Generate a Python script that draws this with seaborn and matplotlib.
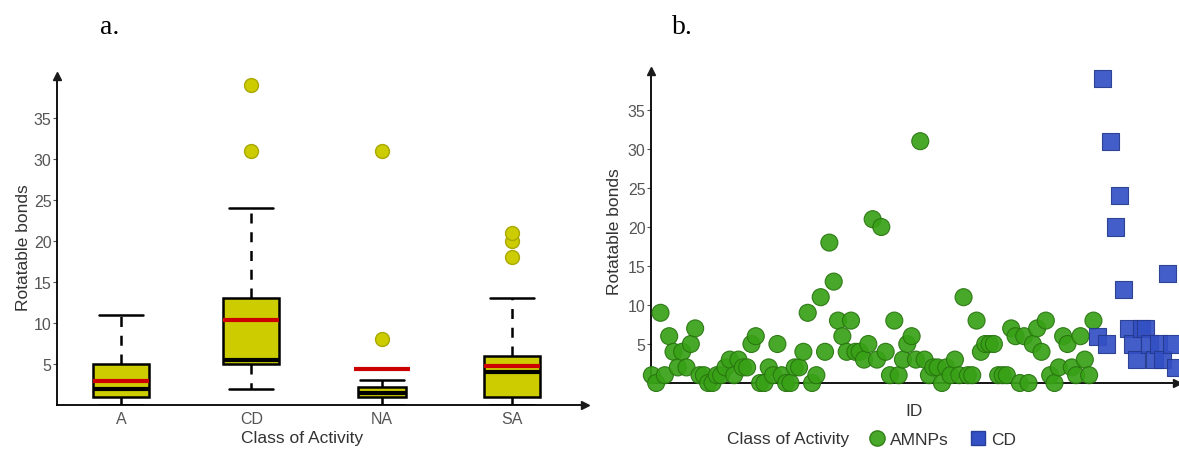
import numpy as np
import pandas as pd
import matplotlib
matplotlib.use("Agg")
import matplotlib.pyplot as plt
import matplotlib.path as mpath
from matplotlib.lines import Line2D
import seaborn as sns

# ---------------- data: panel a (box plot by class) ----------------
classes = ["A", "CD", "NA", "SA"]
a_bonds = [0, 0, 0, 1, 1, 1, 1, 1, 1, 1, 2, 2, 2, 2, 2, 3, 3, 4, 5, 5, 5, 6, 7, 8, 11]
cd_bonds = [2, 3, 3, 3, 5, 5, 5, 5, 5, 5, 6, 7, 7, 7, 13, 13, 20, 24, 31, 39]
na_bonds = [0, 0, 1, 1, 1, 1, 2, 2, 2, 3, 8, 31]
sa_bonds = [0, 0, 0, 0, 0, 0, 1, 1, 1, 1, 1, 1, 2, 2, 4, 4, 4, 4, 4, 5, 5,
            6, 6, 6, 6, 6, 13, 18, 20, 21]

# ---------------- data: panel b (scatter by ID) ----------------
amnp_rot = [1, 0, 9, 1, 6, 4, 2, 4, 2, 5,
            7, 1, 1, 0, 0, 1, 1, 2, 3, 1,
            3, 2, 2, 5, 6, 0, 0, 2, 1, 5,
            1, 0, 0, 2, 2, 4, 9, 0, 1, 11,
            4, 18, 13, 8, 6, 4, 8, 4, 4, 3,
            5, 21, 3, 20, 4, 1, 8, 1, 3, 5,
            6, 3, 31, 3, 1, 2, 2, 0, 2, 1,
            3, 1, 11, 1, 1, 8, 4, 5, 5, 5,
            1, 1, 1, 7, 6, 0, 6, 0, 5, 7,
            4, 8, 1, 0, 2, 6, 5, 2, 1, 6,
            3, 1, 8]
cd_rot = [6, 39, 5, 31, 20, 24, 12, 7, 5, 3, 7, 7, 5, 3, 5, 3, 14, 5, 2]
series_names = ["AMNPs", "CD"]
y_ticks = [5, 10, 15, 20, 25, 30, 35]

# ---------------- style ----------------
sns.set_theme(style="white")
plt.rcParams["font.family"] = ["Liberation Sans", "DejaVu Sans"]

W, H = 1179, 452
fig = plt.figure(figsize=(W / 100, H / 100), dpi=100)
ax1 = fig.add_axes([57 / W, (H - 406) / H, (585 - 57) / W, (406 - 77) / H])
ax2 = fig.add_axes([651 / W, (H - 384) / H, (1177 - 651) / W, (384 - 72) / H])

tick_col = "#555555"
lab_col = "#333333"
yellow = "#cccc00"

# ---------------- panel a ----------------
box_df = pd.DataFrame({
    "Class": (["A"] * len(a_bonds) + ["CD"] * len(cd_bonds)
              + ["NA"] * len(na_bonds) + ["SA"] * len(sa_bonds)),
    "Rotatable bonds": a_bonds + cd_bonds + na_bonds + sa_bonds,
})
sns.boxplot(data=box_df, x="Class", y="Rotatable bonds", order=classes,
            color=yellow, saturation=1, width=0.43, whis=1.5,
            linecolor="black", linewidth=1.8,
            showmeans=True, meanline=True,
            meanprops=dict(color="#cc0000", linestyle="-", linewidth=3),
            medianprops=dict(color="black", linewidth=3),
            whiskerprops=dict(linestyle=(0, (4, 3.5)), linewidth=1.8),
            capprops=dict(linewidth=1.8),
            flierprops=dict(marker="o", markerfacecolor=yellow,
                            markeredgecolor="#a8a800", markersize=10,
                            markeredgewidth=1),
            capwidths=0.34, ax=ax1)

# NA box drawn slightly narrower
na_pos = classes.index("NA")
shrink = 0.86
for p in ax1.patches:
    path = p.get_path()
    v = np.array(path.vertices, dtype=float)
    if len(v) and abs(v[:, 0].mean() - na_pos) < 0.3:
        v[:, 0] = na_pos + (v[:, 0] - na_pos) * shrink
        p.set_path(mpath.Path(v, path.codes))
for ln in ax1.lines:
    xd = np.asarray(ln.get_xdata(), dtype=float)
    if (len(xd) == 2 and abs(xd.mean() - na_pos) < 0.05
            and abs((xd[1] - xd[0]) - 0.43) < 0.02
            and ln.get_color() == "black"):
        ln.set_xdata(na_pos + (xd - na_pos) * shrink)

ax1.set_xlim(-0.491, 3.56)
ax1.set_ylim(0, 40.1)
ax1.set_yticks(y_ticks)
ax1.set_xlabel("Class of Activity", fontsize=12.5, color=lab_col)
ax1.set_ylabel("Rotatable bonds", fontsize=12.5, color=lab_col)
ax1.xaxis.set_label_coords((302 - 57) / 528, -(431 - 406) / 329)
ax1.yaxis.set_label_coords(-(57 - 31) / 528, (406 - 248) / 329)

# ---------------- panel b ----------------
sc_df = pd.DataFrame({
    "ID": np.arange(1, len(amnp_rot) + len(cd_rot) + 1),
    "Rotatable bonds": amnp_rot + cd_rot,
    "Class": [series_names[0]] * len(amnp_rot) + [series_names[1]] * len(cd_rot),
})
palette = {"AMNPs": "#38a116", "CD": "#3350c4"}
sns.scatterplot(data=sc_df, x="ID", y="Rotatable bonds", hue="Class",
                style="Class", markers={"AMNPs": "o", "CD": "s"},
                palette=palette, s=150, alpha=0.92, linewidth=0.8,
                legend=False, ax=ax2, zorder=3, clip_on=False)
for coll in ax2.collections:
    fc = np.array(coll.get_facecolor())
    if len(fc):
        ec = fc.copy()
        ec[:, :3] = ec[:, :3] * 0.72
        coll.set_edgecolor(ec)

ax2.set_xlim(0.8, 122.3)
ax2.set_ylim(0, 40)
ax2.set_yticks(y_ticks)
ax2.set_xticks([])
ax2.set_xlabel("ID", fontsize=12.5, color=lab_col)
ax2.set_ylabel("Rotatable bonds", fontsize=12.5, color=lab_col)
ax2.xaxis.set_label_coords((914 - 651) / 526, -(404 - 384) / 312)
ax2.yaxis.set_label_coords(-(651 - 622) / 526, (384 - 232) / 312)

# ---------------- shared axis styling ----------------
for ax in (ax1, ax2):
    sns.despine(ax=ax)
    for side in ("left", "bottom"):
        ax.spines[side].set_color("black")
        ax.spines[side].set_linewidth(1.3)
    ax.tick_params(axis="y", left=True, length=3, width=0.8, color=tick_col,
                   labelcolor=tick_col, labelsize=11.5, pad=1)
    ax.tick_params(axis="x", bottom=False, length=0, labelcolor=tick_col,
                   labelsize=11.5, pad=4)
    ax.plot(1, 0, ">k", transform=ax.transAxes, clip_on=False,
            markersize=6, zorder=5)
    ax.plot(0, 1, "^k", transform=ax.transAxes, clip_on=False,
            markersize=6, zorder=5)

# legend of panel b
fig.text(788 / W, (H - 440) / H, "Class of Activity", ha="center",
         va="center", fontsize=12.5, color=lab_col)
handles = [
    Line2D([], [], marker="o", linestyle="none", markersize=11,
           markerfacecolor=palette["AMNPs"], markeredgecolor="#2a7a10", alpha=0.92),
    Line2D([], [], marker="s", linestyle="none", markersize=10.5,
           markerfacecolor=palette["CD"], markeredgecolor="#26409a"),
]
fig.legend(handles, series_names, loc="center left",
           bbox_to_anchor=(868 / W, (H - 440) / H), ncol=2, frameon=False,
           fontsize=12.5, handlelength=1.0, handletextpad=0.25,
           columnspacing=1.2, borderpad=0, borderaxespad=0,
           labelcolor=lab_col)

# panel letters
fig.text(100 / W, (H - 28) / H, "a.", ha="left", va="center",
         fontsize=20, family=["Liberation Serif", "DejaVu Serif"], color="black")
fig.text(672 / W, (H - 28) / H, "b.", ha="left", va="center",
         fontsize=20, family=["Liberation Serif", "DejaVu Serif"], color="black")

fig.savefig("out.png", dpi=100)
